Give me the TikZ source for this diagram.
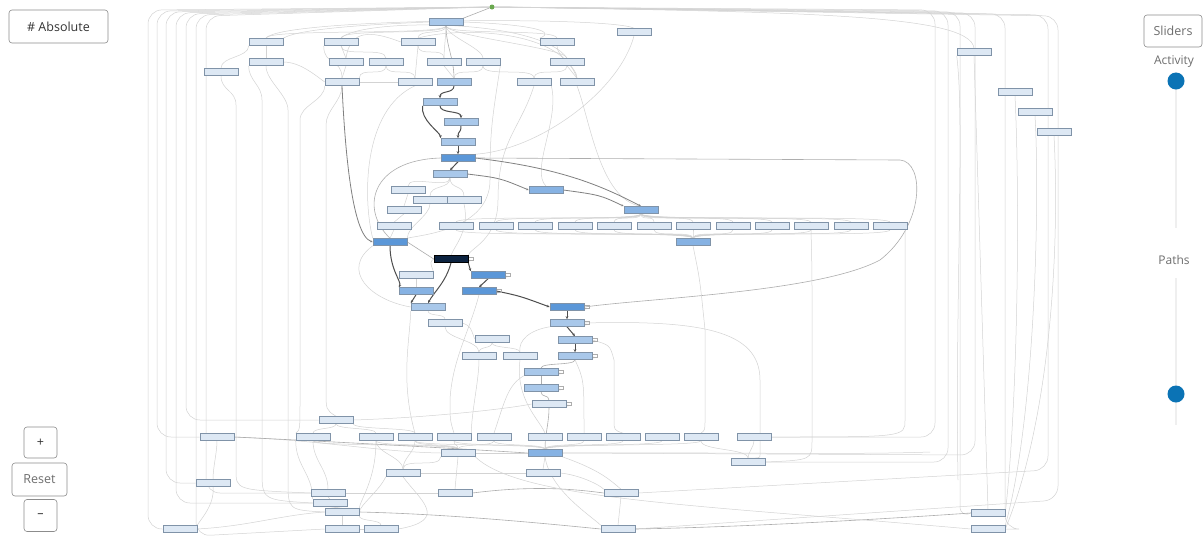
\documentclass[tikz,border=0pt]{standalone}
\usepackage{fontspec}
\setmainfont{Open Sans}
\usetikzlibrary{arrows.meta,backgrounds}
\definecolor{nlight}{HTML}{DDE8F4}
\definecolor{nmid}{HTML}{A9C8EA}
\definecolor{nblue}{HTML}{86B2E3}
\definecolor{ndark}{HTML}{5B97D8}
\definecolor{nnavy}{HTML}{0C2340}
\definecolor{nborder}{HTML}{8093A8}
\definecolor{edgeA}{HTML}{D3D3D3}
\definecolor{edgeB}{HTML}{ADADAD}
\definecolor{edgeC}{HTML}{4E4E4E}
\definecolor{knob}{HTML}{0B73B5}
\definecolor{uiline}{HTML}{8C8C8C}
\definecolor{uitext}{HTML}{333333}
\definecolor{uigrey}{HTML}{6E6E6E}
\definecolor{track}{HTML}{EFEFEF}
\definecolor{startc}{HTML}{6AA84F}
\begin{document}
\begin{tikzpicture}[x=1pt,y=-1pt,
  act/.style={draw=nborder, line width=0.6pt, fill=nlight, minimum width=34pt, minimum height=7pt, inner sep=0pt},
  actm/.style={act, fill=nmid},
  actb/.style={act, fill=nblue},
  actd/.style={act, fill=ndark},
  actn/.style={act, fill=nnavy, draw=black},
  faint/.style={draw=edgeA, line width=0.5pt},
  bundle/.style={draw=edgeA, line width=0.5pt, rounded corners=14pt},
  soft/.style={draw=edgeB, line width=0.6pt},
  strongedge/.style={draw=edgeC, line width=1pt, -{Stealth[length=3pt,width=2.6pt]}},
  midedge/.style={draw=gray, line width=0.8pt, -{Stealth[length=2.6pt,width=2.2pt]}},
  loopedge/.style={draw=edgeB, line width=0.5pt, -{Stealth[length=1.8pt,width=1.6pt]}},
  vcurve/.style={to path={.. controls +(0,#1) and +(0,-#1) .. (\tikztotarget)\tikztonodes}},
  vcurve/.default=12,
  btn/.style={draw=uiline, line width=0.6pt, rounded corners=3pt, fill=white, inner sep=0pt},
  uilabel/.style={text=uigrey, font=\fontsize{12}{14}\selectfont}
]
\useasboundingbox (0,0) rectangle (1203,539);

% ---------------- activities ----------------
\node[circle, fill=startc, minimum size=5pt, inner sep=0pt] (s) at (492,7) {};
\node[actm] (t1) at (446,22) {};

\node[act] (a1) at (266,42) {};
\node[act] (a2) at (266,62) {};
\node[act] (a3) at (221,72) {};
\node[act] (a4) at (341,42) {};
\node[act] (a5) at (346,62) {};
\node[act] (a6) at (386,62) {};
\node[act] (a7) at (342,82) {};
\node[act] (a8) at (415,82) {};
\node[act] (a9) at (418,42) {};
\node[act] (a10) at (444,62) {};
\node[act] (a11) at (483,62) {};
\node[actm] (b1) at (454,82) {};
\node[act] (a12) at (534,82) {};
\node[act] (a13) at (577,82) {};
\node[act] (a14) at (557,42) {};
\node[act] (a15) at (567,62) {};
\node[act] (a16) at (634,32) {};
\node[act] (r1) at (974,52) {};
\node[act] (r2) at (1015,92) {};
\node[act] (r3) at (1035,112) {};
\node[act] (r4) at (1054,132) {};

\node[actm] (c1) at (440,102) {};
\node[actm] (c2) at (461,122) {};
\node[actm] (c3) at (458,142) {};
\node[actd] (c4) at (458,158) {};
\node[actm] (c5) at (450,174) {};
\node[act] (d1) at (408,190) {};
\node[act] (d2) at (430,200) {};
\node[act] (d3) at (464,200) {};
\node[act] (d4) at (404,210) {};
\node[act] (d5) at (394,226) {};
\node[actd] (e1) at (390,242) {};
\node[actb] (f1) at (546,190) {};
\node[actb] (f2) at (641,210) {};
\foreach \i/\x in {1/456,2/496,3/535,4/575,5/614,6/654,7/693,8/733,9/772,10/811,11/851,12/890}
  \node[act] (g\i) at (\x,226) {};
\node[actb] (f3) at (693,242) {};

\node[actn] (h1) at (451,259) {};
\node[actd] (h2) at (488,275) {};
\node[act] (h3) at (416,275) {};
\node[actb] (h4) at (416,291) {};
\node[actd] (h5) at (479,291) {};
\node[actm] (h6) at (428,307) {};
\node[actd] (k1) at (567,307) {};
\node[actm] (k2) at (567,323) {};
\node[act] (k3) at (445,323) {};
\node[actm] (k4) at (575,340) {};
\node[act] (k5) at (492,339) {};
\node[actm] (k6) at (575,356) {};
\node[act] (k7) at (479,356) {};
\node[act] (k8) at (520,356) {};
\node[actm] (k9) at (541,372) {};
\node[actm] (k10) at (541,388) {};
\node[act] (k11) at (549,404) {};

\node[act] (m1) at (336,420) {};
\foreach \i/\x in {1/217,2/313,3/376,4/415,5/454,6/494,7/545,8/584,9/623,10/662,11/701,12/754}
  \node[act] (p\i) at (\x,437) {};
\node[act] (q1) at (458,453) {};
\node[actb] (q2) at (545,453) {};
\node[act] (q3) at (748,462) {};
\node[act] (u1) at (213,483) {};
\node[act] (u2) at (403,473) {};
\node[act] (u3) at (543,473) {};
\node[act] (v1) at (328,493) {};
\node[act] (v2) at (455,493) {};
\node[act] (v3) at (621,493) {};
\node[act] (v4) at (330,503) {};
\node[act] (v5) at (342,512) {};
\node[act] (w1) at (180,529) {};
\node[act] (w2) at (342,529) {};
\node[act] (w3) at (381,529) {};
\node[act] (w4) at (618,529) {};
\node[act] (w5) at (988,513) {};
\node[act] (w6) at (988,529) {};

% ---------------- connectors ----------------
\begin{pgfonlayer}{background}
\fill[white] (0,0) rectangle (1203,539);

% routes leaving the start along the top and down the left side
\draw[bundle] (s.west) -- (148,10) -- (148,529) -- (w1.west);
\draw[bundle] (s.west) -- (157,11) -- (157,437) -- (p1.west);
\draw[bundle] (s.west) -- (166,12) -- (166,483) -- (u1.west);
\draw[bundle] (s.west) -- (176,13) -- (176,503) -- (v4.west);
\draw[bundle] (s.west) -- (186,14) -- (186,420) -- (m1.west);
\draw[bundle] (s.west) -- (196,15) -- (196,536) -- (w2.west);
\draw[bundle] (s.west) -- (206,16) -- (206,493) -- (v1.west);

% routes leaving the start along the top and down the right side
\draw[bundle] (s.east) -- (935,10) -- (935,437) -- (p12.east);
\draw[bundle] (s.east) -- (948,11) -- (948,462) -- (q3.east);
\draw[bundle] (s.east) -- (960,12) -- (960,520) -- (w5.west);
\draw[bundle] (s.east) -- (975,13) -- (975,455) -- (q2.east);
\draw[bundle] (s.east) -- (1005,14) -- (1005,529) -- (w6.east);
\draw[bundle] (s.east) -- (1048,15) -- (1048,470) -- (v3.east);
\draw[bundle] (s.east) -- (1058,16) -- (1058,500) -- (w4.east);
\draw[faint] (s.east) .. controls (800,12) and (970,14) .. (r1.north);
\draw[faint] (r1.south) -- (w5.north);
\draw[faint] (r2.south) .. controls (1020,200) and (1018,400) .. (w5.east);
\draw[faint] (r3.south) .. controls (1040,200) and (1035,420) .. (w6.north east);
\draw[faint] (r4.south) .. controls (1060,250) and (1050,420) .. (w6.east);
\draw[faint] (r1.south west) .. controls (965,120) and (955,300) .. (958,480);

% top region
\draw[soft] (s) -- (t1.north east);
\foreach \n in {a1,a4,a9,a10,a11,a14,a15}
  \draw[faint] (t1.south) to[vcurve=10] (\n.north);
\draw[faint] (t1.west) .. controls (380,24) and (300,28) .. (a1.north east);
\draw[faint] (t1.east) .. controls (520,24) and (560,30) .. (a14.north west);
\draw[soft] (t1.south) to[vcurve=20] (b1.north);
\draw[faint] (a4.north) .. controls (360,18) and (540,18) .. (a15.north);
\draw[faint] (a1.north) .. controls (280,18) and (610,16) .. (a16.north);
\draw[faint] (a9.north) .. controls (450,28) and (560,26) .. (a13.north);
\draw[faint] (a1.south) to (a2.north);
\draw[faint] (a1.south west) to[vcurve] (a3.north);
\draw[faint] (a4.south) to (a5.north);
\draw[faint] (a4.south) to[vcurve] (a6.north);
\draw[faint] (a4.south west) to[vcurve=20] (a7.north);
\draw[faint] (a5.south) to (a7.north);
\draw[faint] (a6.south) to[vcurve] (a7.north east);
\draw[faint] (a6.south) to[vcurve] (a8.north);
\draw[faint] (a9.south) to (a8.north);
\draw[faint] (a9.south) to[vcurve] (a10.north);
\draw[faint] (a10.south) to (b1.north);
\draw[faint] (a11.south) to[vcurve] (b1.north);
\draw[faint] (a11.south) to[vcurve] (a12.north);
\draw[faint] (a14.south) to[vcurve] (a13.north);
\draw[faint] (a15.south) to (a13.north);
\draw[faint] (a15.south) to[vcurve] (a12.north);
\draw[faint] (a2.east) .. controls (300,62) and (315,75) .. (a7.west);
\draw[faint] (a5.north) .. controls (350,30) and (370,30) .. (a9.west);
\draw[faint] (a7.east) -- (a8.west);

% long routes from the upper activities downward
\draw[faint] (a3.south) to[vcurve=15] (236,105) -- (236,470) .. controls (236,490) .. (v1.west);
\draw[faint] (a2.south west) to[vcurve=15] (262,100) -- (262,470) .. controls (262,500) .. (v4.west);
\draw[faint] (a2.south) to[vcurve=15] (288,110) -- (288,480) .. controls (288,510) .. (v5.west);
\draw[faint] (a7.south west) to[vcurve=15] (300,120) -- (300,400) .. controls (300,430) .. (p2.north west);
\draw[faint] (a7.south) to[vcurve=15] (326,125) -- (326,390) .. controls (326,410) .. (m1.north);
\draw[midedge] (a7.south) .. controls (345,150) and (352,235) .. (e1.west);
\draw[faint] (a8.south) .. controls (362,110) and (363,200) .. (e1.north west);
\draw[faint] (a12.south) .. controls (520,130) and (498,140) .. (498,200) .. controls (498,240) and (470,248) .. (h1.north east);
\draw[faint] (a11.south east) .. controls (492,120) and (490,130) .. (490,180) .. controls (490,230) and (420,235) .. (e1.north east);
\draw[faint] (a16.south) .. controls (620,90) and (540,150) .. (c4.north east);
\draw[faint] (a13.south) .. controls (590,120) and (600,200) .. (f2.north);
\draw[faint] (a12.south east) .. controls (560,120) and (530,170) .. (f1.north);

% main chain
\draw[strongedge] (b1.south) to[vcurve=8] (c1.north);
\draw[strongedge] (c1.south) to[vcurve=8] (c2.north);
\draw[strongedge] (c1.south west) .. controls (420,120) and (440,132) .. (c3.north west);
\draw[strongedge] (c2.south) to[vcurve=8] (c3.north);
\draw[strongedge] (c3.south) -- (c4.north);
\draw[strongedge] (c4.south) -- (c5.north);
\draw[midedge] (c5.east) .. controls (500,178) .. (f1.west);
\draw[midedge] (f1.east) .. controls (600,195) .. (f2.north west);
\draw[midedge] (c4.east) .. controls (560,168) and (600,185) .. (f2.north);
\draw[soft] (c4.east) -- (900,160) .. controls (925,162) and (925,225) .. (880,260) .. controls (820,292) and (650,298) .. (k1.east);
\draw[soft] (c4.west) .. controls (370,160) and (360,210) .. (e1.north);
\draw[faint] (c5.south) to[vcurve] (d1.north);
\draw[faint] (c5.south) to[vcurve] (d2.north);
\draw[faint] (c5.south) to[vcurve] (d3.north);
\draw[faint] (d1.south) to (d4.north);
\draw[faint] (d4.south) to (d5.north);
\draw[faint] (d5.south) to (e1.north);
\draw[faint] (d2.south) to[vcurve] (e1.north east);
\draw[faint] (d3.south) .. controls (470,230) and (455,245) .. (h1.north);

% fan out and back in
\foreach \i in {1,...,12} {
  \draw[faint] (f2.south) to[vcurve=8] (g\i.north);
  \draw[faint] (g\i.south) to[vcurve=8] (f3.north);
}
\draw[faint] (g12.east) .. controls (905,226) .. (905,260) -- (905,420) .. controls (905,437) .. (p12.east);
\draw[faint] (f3.south) .. controls (700,280) .. (705,330) -- (705,420) .. controls (705,430) .. (p11.north);
\draw[faint] (g10.south) .. controls (812,270) .. (812,300) -- (812,440) .. controls (812,460) .. (q3.east);
\draw[faint] (k2.east) .. controls (700,320) and (760,330) .. (760,380) -- (760,455) .. controls (760,458) .. (q3.north);

% centre cluster
\draw[soft] (e1.east) -- (h1.west);
\draw[strongedge] (e1.south) .. controls (390,270) and (402,282) .. (h4.north west);
\draw[strongedge] (h1.south) .. controls (446,282) and (434,292) .. (h6.north);
\draw[strongedge] (h4.south) -- (h6.north west);
\draw[strongedge] (h1.south east) -- (h2.north west);
\draw[strongedge] (h2.south) -- (h5.north);
\draw[strongedge] (h5.east) .. controls (520,296) .. (k1.west);
\draw[strongedge] (k1.south) -- (k2.north);
\draw[strongedge] (k2.south) -- (k4.north);
\draw[strongedge] (k4.south) -- (k6.north);
\draw[soft] (k6.south) to[vcurve=6] (k9.north);
\draw[soft] (k9.south) -- (k10.north);
\draw[soft] (k10.south) to[vcurve=6] (k11.north);
\draw[faint] (h1.west) .. controls (430,262) .. (h3.north east);
\draw[faint] (h3.south) -- (h4.north);
\draw[faint] (h6.south) to[vcurve=6] (k3.north);
\draw[faint] (k3.east) .. controls (470,326) .. (k5.west);
\draw[faint] (k3.south) to[vcurve] (k7.north);
\draw[faint] (k5.south) to[vcurve=6] (k7.north);
\draw[faint] (k5.south) to[vcurve=6] (k8.north);
\draw[faint] (k2.south west) .. controls (530,330) and (518,340) .. (k8.north);
\draw[faint] (h5.south) .. controls (470,330) and (452,360) .. (450,400) .. controls (450,420) .. (p5.north);
\draw[faint] (k7.south) to[vcurve=20] (p5.north east);
\draw[faint] (k4.east) .. controls (610,345) .. (614,360) -- (614,420) .. controls (614,430) .. (p9.north);
\draw[faint] (k6.south) .. controls (584,380) .. (584,430) -- (p8.north);
\draw[faint] (k9.south west) .. controls (508,385) and (505,400) .. (p6.north);
\draw[faint] (k8.south) .. controls (515,400) and (540,420) .. (p7.north);
\draw[soft] (k11.south) to[vcurve=15] (q2.north);
\draw[faint] (m1.east) .. controls (420,418) and (500,410) .. (k11.west);
\draw[faint] (e1.south west) .. controls (340,270) and (370,300) .. (h6.west);
\draw[faint] (h6.south west) .. controls (410,340) and (400,380) .. (p4.north);

% self loops
\foreach \n in {h1,h2,h5,k1,k2,k4,k6,k9,k10,k11}
  \draw[loopedge] ([yshift=1.5pt]\n.east) -- ++(5,0) -- ++(0,3) -- ([yshift=-1.5pt]\n.east);

% lower region
\foreach \i in {2,...,6}
  \draw[faint] (p\i.south) to[vcurve=6] (q1.north);
\foreach \i in {4,...,11}
  \draw[faint] (p\i.south) to[vcurve=6] (q2.north);
\draw[faint] (m1.south) to[vcurve=6] (p2.north);
\draw[faint] (m1.south) to[vcurve=6] (p3.north);
\draw[faint] (m1.south east) to[vcurve=6] (p4.north);
\draw[faint] (p1.east) .. controls (320,440) and (380,452) .. (q1.west);
\draw[soft] (p1.east) .. controls (380,444) and (480,450) .. (q2.west);
\draw[faint] (p1.south) to[vcurve] (u1.north);
\draw[faint] (u1.south) .. controls (215,505) and (200,520) .. (w1.north east);
\draw[faint] (q1.east) -- (q2.west);
\draw[faint] (q2.east) .. controls (700,452) and (850,455) .. (930,452);
\draw[faint] (q1.south) to (v2.north);
\draw[faint] (q1.south west) to[vcurve] (u2.north);
\draw[faint] (p3.south) to[vcurve] (u2.north);
\draw[faint] (p4.south) to[vcurve] (u2.north);
\draw[faint] (u2.east) -- (u3.west);
\draw[faint] (q2.south) -- (u3.north);
\draw[faint] (u3.east) .. controls (580,475) and (600,485) .. (v3.north west);
\draw[faint] (q2.south east) .. controls (600,470) and (610,480) .. (v3.north);
\draw[soft] (v2.east) .. controls (520,487) and (560,487) .. (v3.west);
\draw[faint] (v1.east) -- (v2.west);
\draw[faint] (u2.south west) .. controls (380,490) and (360,505) .. (v5.east);
\draw[faint] (p2.south) to[vcurve=20] (v1.north);
\draw[faint] (p2.south west) to[vcurve=25] (v4.north west);
\draw[faint] (p3.south) .. controls (376,480) and (360,500) .. (v5.north east);
\draw[faint] (v1.south) -- (v4.north);
\draw[faint] (v4.south) -- (v5.north);
\draw[faint] (v5.south) -- (w2.north);
\draw[faint] (v5.south east) to[vcurve=6] (w3.north);
\draw[faint] (w1.east) .. controls (250,526) and (280,515) .. (v5.west);
\draw[soft] (v5.east) .. controls (450,514) and (550,524) .. (w4.west);
\draw[faint] (v3.south) -- (w4.north);
\draw[faint] (q2.south) .. controls (550,490) and (590,515) .. (w4.north west);
\draw[soft] (w4.east) .. controls (750,527) and (900,518) .. (w5.west);
\draw[faint] (w2.east) -- (w3.west);
\draw[faint] (p11.south) to[vcurve=10] (q3.north);
\draw[faint] (p12.south) to[vcurve=6] (q3.north);
\draw[faint] (q1.south east) .. controls (520,500) and (700,505) .. (w6.west);
\draw[faint] (u2.south) .. controls (420,500) and (450,520) .. (w3.east);
\end{pgfonlayer}

% ---------------- controls ----------------
\node[btn, minimum width=99pt, minimum height=33pt, text=uitext, font=\fontsize{12.5}{14}\selectfont] (absb) at (58.5,26.5) {\# Absolute};
\node[btn, minimum width=58pt, minimum height=32pt, text=uigrey, font=\fontsize{12.5}{14}\selectfont] (slb) at (1173,31) {Sliders};
\node[uilabel] (actl) at (1174,62) {Activity};
\node[uilabel] (pathl) at (1174,260) {Paths};
\coordinate (ta) at (1176,72);
\coordinate (tb) at (1176,228);
\coordinate (tc) at (1176,278);
\coordinate (td) at (1176,425);
\draw[track, line width=2.5pt] (ta) -- (tb);
\draw[track, line width=2.5pt] (tc) -- (td);
\node[circle, fill=knob, minimum size=17pt, inner sep=0pt] (knoba) at (1176,81) {};
\node[circle, fill=knob, minimum size=17pt, inner sep=0pt] (knobb) at (1176,394) {};
\node[btn, minimum width=33pt, minimum height=31pt, text=uitext, font=\fontsize{12.5}{14}\selectfont] (plusb) at (40.5,442.5) {+};
\node[btn, minimum width=55pt, minimum height=33pt, text=uigrey, font=\fontsize{12.5}{14}\selectfont] (resetb) at (39.5,479.5) {Reset};
\node[btn, minimum width=33pt, minimum height=32pt, text=uitext, font=\fontsize{12.5}{14}\selectfont] (minusb) at (40.5,515.5) {\symbol{"2013}};
\end{tikzpicture}
\end{document}
